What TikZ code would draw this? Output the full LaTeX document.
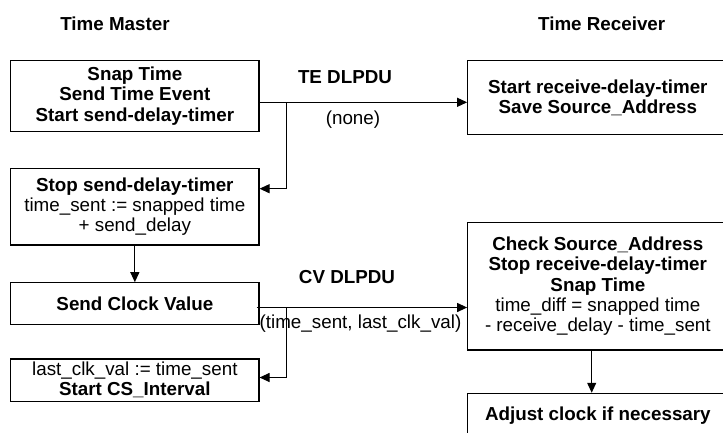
\documentclass[tikz,border=0pt]{standalone}
\usepackage{fontspec}
\setmainfont{Liberation Sans}
\usetikzlibrary{arrows.meta}
\begin{document}
\begin{tikzpicture}[x=1pt,y=1pt,
  box/.style={draw, line width=1.1pt, inner sep=0pt, minimum width=248.3pt, align=center, font=\fontsize{18.8}{20.2}\selectfont},
  rbox/.style={box, minimum width=260.3pt},
  conn/.style={line width=1.1pt, -{Triangle[length=10pt,width=9pt]}},
  lbl/.style={inner sep=0pt, font=\fontsize{18.8}{20.2}\selectfont}]
\useasboundingbox (0,0) rectangle (723,-432);
\clip (0,0) rectangle (723,-432);
% titles
\node[lbl] (tm) at (115,-24) {\textbf{Time Master}};
\node[lbl] (tr) at (601.7,-24) {\textbf{Time Receiver}};
% master boxes
\node[box, minimum height=70.6pt] (A) at (134.85,-96) {\textbf{Snap Time}\\\textbf{Send Time Event}\\\textbf{Start send-delay-timer}};
\node[box, minimum height=76.3pt] (B) at (134.85,-206.85) {\textbf{Stop send-delay-timer}\\time\_sent := snapped time\\+ send\_delay};
\node[box, minimum height=41.8pt] (C) at (134.85,-303.6) {\textbf{Send Clock Value}};
\node[box, minimum height=42.3pt] (D) at (134.85,-380.15) {last\_clk\_val := time\_sent\\\textbf{Start CS\_Interval}};
% receiver boxes
\node[rbox, minimum height=74.1pt] (E) at (597.85,-97.75) {\textbf{Start receive-delay-timer}\\\textbf{Save Source\_Address}};
\node[rbox, minimum height=127.7pt] (F) at (597.85,-286.15) {\textbf{Check Source\_Address}\\\textbf{Stop receive-delay-timer}\\\textbf{Snap Time}\\time\_diff = snapped time\\- receive\_delay - time\_sent};
\node[rbox, minimum height=43.7pt] (G) at (597.85,-415.15) {\textbf{Adjust clock if necessary}};
% labels
\node[lbl] (te) at (345,-76.7) {\textbf{TE DLPDU}};
\node[lbl] (none) at (353,-119.3) {(none)};
\node[lbl] (cvl) at (347,-276.7) {\textbf{CV DLPDU}};
\node[lbl] (cvp) at (360.5,-323.3) {(time\_sent, last\_clk\_val)};
% coordinates
\coordinate (tej) at (286.7,-102.3);
\coordinate (teb) at (286.7,-188.7);
\coordinate (cvs) at (256.5,-307.5);
\coordinate (cvj) at (286.7,-307.5);
\coordinate (cvb) at (286.7,-377.5);
\coordinate (fg) at (591.7,0);
% connectors
\draw[conn] (A.east |- tej) -- (E.west |- tej);
\draw[conn] (tej) -- (teb) -- (B.east |- teb);
\draw[conn] (B.south) -- (C.north);
\draw[conn] (cvs) -- (F.west |- cvs);
\draw[conn] (cvj) -- (cvb) -- (D.east |- cvb);
\draw[conn] (F.south -| fg) -- (G.north -| fg);
\end{tikzpicture}
\end{document}
